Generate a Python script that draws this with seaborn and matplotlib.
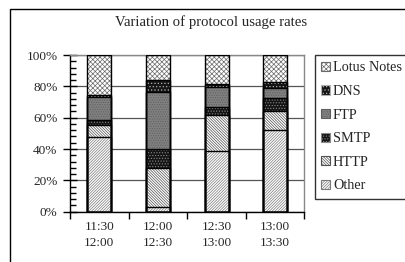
import matplotlib
matplotlib.use("Agg")
import matplotlib.pyplot as plt
import matplotlib.patches as mpatches
from matplotlib.ticker import MultipleLocator, FixedLocator, NullFormatter, FixedFormatter
import seaborn as sns
import pandas as pd

# ---- data (percent shares, bottom to top) ----
categories = ["11:30\n12:00", "12:00\n12:30", "12:30\n13:00", "13:00\n13:30"]
other = [47.5, 3.2, 38.7, 52.3]
http = [7.8, 24.8, 22.8, 12.0]
smtp = [3.2, 11.8, 5.5, 8.1]
ftp = [14.5, 36.8, 12.6, 6.7]
dns = [1.7, 7.4, 1.9, 3.5]
lotus = [25.3, 16.0, 18.5, 17.4]
series_names = ["Other", "HTTP", "SMTP", "FTP", "DNS", "Lotus Notes"]
series_values = [other, http, smtp, ftp, dns, lotus]
title = "Variation of protocol usage rates"

# ---- styles ----
styles = {
    "Other":       dict(face="white",   hatch="/" * 12,  hcol="#7a7a7a"),
    "HTTP":        dict(face="white",   hatch="\\" * 12, hcol="#505050"),
    "SMTP":        dict(face="#151515", hatch="." * 6,   hcol="#8a8a8a"),
    "FTP":         dict(face="#808080", hatch="." * 7,   hcol="#5e5e5e"),
    "DNS":         dict(face="#151515", hatch="." * 5,   hcol="#b0b0b0"),
    "Lotus Notes": dict(face="white",   hatch="x" * 7,   hcol="#6a6a6a"),
}

sns.set_style("white")
plt.rcParams["font.family"] = ["Liberation Serif", "DejaVu Serif"]
plt.rcParams["hatch.linewidth"] = 0.5

W, H = 406, 262
fig = plt.figure(figsize=(W / 100, H / 100), dpi=100)
ax = fig.add_axes([70 / W, 1 - 211.7 / H, (304.5 - 70) / W, (211.7 - 55) / H])

# cumulative tops
cum = []
run = [0.0] * len(categories)
for vals in series_values:
    run = [r + v for r, v in zip(run, vals)]
    cum.append(list(run))

bar_width = 0.41
for name, tops in zip(reversed(series_names), reversed(cum)):
    st = styles[name]
    df = pd.DataFrame({"cat": categories, "top": tops})
    n0 = len(ax.patches)
    sns.barplot(data=df, x="cat", y="top", order=categories, width=bar_width,
                ax=ax, errorbar=None, color=st["face"])
    for p in ax.patches[n0:]:
        p.set_facecolor(st["face"])
        p.set_edgecolor(st["hcol"])
        p.set_hatch(st["hatch"])
        p.set_linewidth(0)
        p.set_zorder(2)
    n1 = len(ax.patches)
    sns.barplot(data=df, x="cat", y="top", order=categories, width=bar_width,
                ax=ax, errorbar=None, color="white")
    for p in ax.patches[n1:]:
        p.set_facecolor("none")
        p.set_edgecolor("black")
        p.set_linewidth(1.0)
        p.set_zorder(3)

ax.set_xlim(-0.5, len(categories) - 0.5)
ax.set_ylim(0, 100)
ax.set_xlabel("")
ax.set_ylabel("")

# y axis
ax.yaxis.set_major_locator(MultipleLocator(20))
ax.yaxis.set_minor_locator(MultipleLocator(4))
ax.set_yticks(range(0, 101, 20))
ax.set_yticklabels([f"{v}%" for v in range(0, 101, 20)])
ax.tick_params(axis="y", which="major", direction="inout", length=10, width=1,
               color="black", labelsize=9.5, pad=4, left=True)
ax.tick_params(axis="y", which="minor", direction="in", length=4, width=1,
               color="black", left=True)

# x axis: ticks at boundaries, labels at centers
ax.xaxis.set_major_locator(FixedLocator([i - 0.5 for i in range(len(categories) + 1)]))
ax.xaxis.set_major_formatter(NullFormatter())
ax.xaxis.set_minor_locator(FixedLocator(list(range(len(categories)))))
ax.xaxis.set_minor_formatter(FixedFormatter(categories))
ax.tick_params(axis="x", which="major", direction="out", length=5, width=1,
               color="black", bottom=True)
ax.tick_params(axis="x", which="minor", length=0, labelsize=9.5, pad=7,
               bottom=True)
for lbl in ax.get_xticklabels(minor=True):
    lbl.set_linespacing(1.4)

ax.grid(axis="y", which="major", color="#555555", linewidth=0.9, zorder=0)
ax.set_axisbelow(True)
for side in ["left", "bottom"]:
    ax.spines[side].set_color("black")
    ax.spines[side].set_linewidth(1.0)
for side in ["top", "right"]:
    ax.spines[side].set_visible(True)
    ax.spines[side].set_color("#888888")
    ax.spines[side].set_linewidth(1.0)

# title
fig.text(211.5 / W, 1 - 22 / H, title, ha="center", va="center", fontsize=10.6)

# legend
handles = []
for name in reversed(series_names):
    st = styles[name]
    handles.append(mpatches.Patch(facecolor=st["face"], edgecolor=st["hcol"],
                                  hatch=st["hatch"], linewidth=0.8, label=name))
leg = fig.legend(handles=handles, loc="upper left",
                 bbox_to_anchor=(315 / W, 1 - 55 / H), fontsize=10.3,
                 frameon=True, fancybox=False, shadow=False, borderpad=0.45,
                 labelspacing=0.74, handlelength=0.6, handleheight=0.6,
                 handletextpad=0.2, borderaxespad=0)
leg.get_frame().set_edgecolor("black")
leg.get_frame().set_linewidth(1.0)

# outer chart border (cropped at right/bottom)
fig.patches.append(mpatches.Rectangle((10 / W, -0.2), 1.2, 1 - 9.5 / H + 0.2,
                                      transform=fig.transFigure, fill=False,
                                      edgecolor="black", linewidth=1.0))

fig.savefig("out.png", dpi=100)
